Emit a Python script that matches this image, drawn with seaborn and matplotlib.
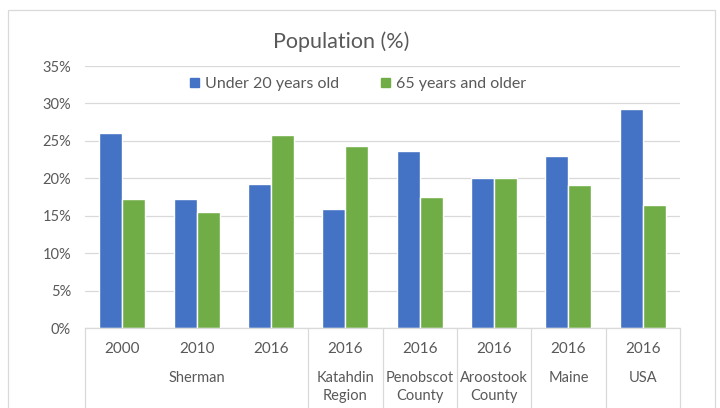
import pandas as pd
import seaborn as sns
import matplotlib.pyplot as plt
from matplotlib.patches import Rectangle
from matplotlib.ticker import FuncFormatter

# data
places = ["Sherman", "Sherman", "Sherman", "Katahdin\nRegion", "Penobscot\nCounty",
          "Aroostook\nCounty", "Maine", "USA"]
years = ["2000", "2010", "2016", "2016", "2016", "2016", "2016", "2016"]
under_20 = [26.0, 17.2, 19.2, 15.9, 23.6, 20.0, 23.0, 29.3]
over_65 = [17.2, 15.5, 25.8, 24.3, 17.5, 20.0, 19.1, 16.4]
series = ["Under 20 years old", "65 years and older"]

keys = [f"{p} {y}" for p, y in zip(places, years)]
df = pd.DataFrame({"key": keys * 2,
                   "value": under_20 + over_65,
                   "series": [series[0]] * 8 + [series[1]] * 8})

sns.set_style("white")
plt.rcParams["font.family"] = ["Lato", "DejaVu Sans"]
txt = "#595959"
grid = "#d9d9d9"

fig = plt.figure(figsize=(7.2, 4.08), dpi=100)
ax = fig.add_axes([85 / 720, 1 - 328 / 408, 595 / 720, 262 / 408])

sns.barplot(data=df, x="key", y="value", hue="series", order=keys,
            palette=["#4472C4", "#70AD47"], width=0.62, saturation=1,
            ax=ax, legend=False)

ax.set_ylim(0, 35)
ax.set_xlim(-0.5, 7.5)
ax.set_yticks(range(0, 36, 5))
ax.yaxis.set_major_formatter(FuncFormatter(lambda v, p: f"{v:.0f}%"))
ax.yaxis.grid(True, color=grid, linewidth=0.9)
ax.set_axisbelow(True)
ax.tick_params(axis="y", length=0, pad=10, labelsize=10.5, labelcolor=txt)
ax.set_xticks([])
ax.set_xlabel("")
ax.set_ylabel("")
for s in ["top", "right", "left"]:
    ax.spines[s].set_visible(False)
ax.spines["bottom"].set_color(grid)
ax.spines["bottom"].set_linewidth(0.9)

# multi-level category axis
trans = ax.get_xaxis_transform()
for i, y in enumerate(years):
    ax.text(i, -0.08, y, transform=trans, ha="center", va="center",
            fontsize=11, color=txt)
group_pos = {}
for i, p in enumerate(places):
    group_pos.setdefault(p, []).append(i)
for p, idx in group_pos.items():
    ax.text(sum(idx) / len(idx), -0.165, p, transform=trans, ha="center",
            va="top", fontsize=10.5, color=txt, linespacing=1.35)
for xb in [-0.5, 2.5, 3.5, 4.5, 5.5, 6.5, 7.5]:
    ax.plot([xb, xb], [0, -0.32], transform=trans, color=grid,
            linewidth=0.9, clip_on=False)

# legend and title
handles = [Rectangle((0, 0), 1, 1, color=c) for c in ["#4472C4", "#70AD47"]]
fig.legend(handles, series, loc="center", bbox_to_anchor=(358 / 720, 1 - 84 / 408),
           ncol=2, frameon=False, fontsize=11.5, labelcolor=txt,
           handlelength=0.55, handleheight=0.55, handletextpad=0.4,
           columnspacing=2.6)
fig.text(341 / 720, 1 - 42 / 408, "Population (%)", ha="center", va="center",
         fontsize=15.5, color=txt)

# chart area border
fig.patches.append(Rectangle((8 / 720, -0.05), 707 / 720, 1 - 10 / 408 + 0.05,
                             transform=fig.transFigure, fill=False,
                             edgecolor=grid, linewidth=0.9))

fig.savefig("out.png", dpi=100)
